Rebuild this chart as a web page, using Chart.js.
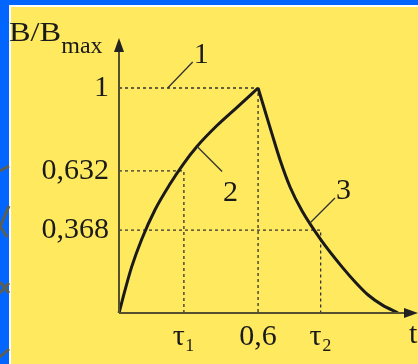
<!DOCTYPE html>
<html>
<head>
<meta charset="utf-8">
<script src="https://cdn.jsdelivr.net/npm/chart.js"></script>
<style>
  html, body { margin: 0; padding: 0; background: #0066ff; }
  canvas { display: block; }
</style>
</head>
<body>
<canvas id="fluxChart" width="418" height="364"></canvas>
<script>
// guide values on the axes
const yTickValues = [0.368, 0.632, 1];
const yTickLabels = ["0,368", "0,632", "1"];
const xTickValues = [0.28, 0.6, 0.87];
const xTickLabels = ["τ₁", "0,6", "τ₂"];

// curve 2 (rise) and curve 3 (decay)
const riseT = [0, 0.026, 0.055, 0.098, 0.155, 0.220, 0.2775, 0.3354, 0.4217, 0.508, 0.6];
const riseB = [0, 0.102, 0.206, 0.328, 0.458, 0.573, 0.662, 0.739, 0.832, 0.913, 1];
const decayT = [0.6, 0.630, 0.660, 0.695, 0.738, 0.790, 0.872, 0.963, 1.019, 1.075, 1.135, 1.204];
const decayB = [1, 0.898, 0.796, 0.680, 0.560, 0.453, 0.324, 0.204, 0.138, 0.080, 0.036, 0];

// numbered callouts: where the leader touches the drawing
const calloutText = ["1", "2", "3"];
const calloutT = [0.21, 0.337, 0.824];
const calloutB = [1, 0.74, 0.40];

const ink = "#1a1a1a";
const axisColor = "#57502f";
const serif = '"Liberation Serif", "DejaVu Serif", serif';

const toPoints = (xs, ys) => xs.map((x, i) => ({ x: x, y: ys[i] }));

// dotted guide: from the y axis to the curve, then down to the t axis
function guide(t, b) {
    return {
        data: [{ x: 0, y: b }, { x: t, y: b }, { x: t, y: 0 }],
        borderColor: "#333",
        borderWidth: 1.3,
        borderDash: [3, 3],
        pointRadius: 0,
        tension: 0,
    };
}

const curveStyle = {
    borderColor: ink,
    borderWidth: 3,
    pointRadius: 0,
    cubicInterpolationMode: "monotone",
    clip: 6,
};

// leader offsets for callouts 1, 2, 3 (pixels)
const calloutDx = [25, 25, 25];
const calloutDy = [-26, 25, -25];

const slideFrame = {
    id: "slideFrame",
    beforeDraw(chart) {
        const { ctx, width, height } = chart;
        ctx.save();
        ctx.fillStyle = "#0066ff";
        ctx.fillRect(0, 0, width, height);
        ctx.fillStyle = "#ffffff";
        ctx.fillRect(9, 5, width, height);
        ctx.fillStyle = "#ffe95f";
        ctx.fillRect(11, 7, width, height);
        // grey strokes of the slide template on the blue strip
        ctx.strokeStyle = "#5b5e52";
        ctx.lineWidth = 3;
        [[0, 171, 9, 166], [9, 206, 0, 227], [0, 226, 7, 237],
         [0, 282, 9, 293], [0, 293, 9, 283], [0, 357, 9, 349]].forEach((s) => {
            ctx.beginPath();
            ctx.moveTo(s[0], s[1]);
            ctx.lineTo(s[2], s[3]);
            ctx.stroke();
        });
        ctx.restore();
    },
    afterDraw(chart) {
        const { ctx, width } = chart;
        const xs = chart.scales.x, ys = chart.scales.y;
        const x0 = xs.getPixelForValue(0), y0 = ys.getPixelForValue(0);
        ctx.save();
        // axes with arrow heads
        ctx.strokeStyle = axisColor;
        ctx.fillStyle = "#222";
        ctx.lineWidth = 2;
        ctx.beginPath();
        ctx.moveTo(x0, y0);
        ctx.lineTo(x0, 48);
        ctx.moveTo(x0, y0);
        ctx.lineTo(width - 8, y0);
        ctx.stroke();
        ctx.beginPath();
        ctx.moveTo(x0, 38);
        ctx.lineTo(x0 + 5, 52);
        ctx.lineTo(x0 - 5, 52);
        ctx.closePath();
        ctx.fill();
        ctx.beginPath();
        ctx.moveTo(width, y0);
        ctx.lineTo(width - 14, y0 - 5);
        ctx.lineTo(width - 14, y0 + 5);
        ctx.closePath();
        ctx.fill();

        // axis titles (the B/B of the slide is set a little wide)
        ctx.fillStyle = ink;
        ctx.textBaseline = "alphabetic";
        ctx.font = "27px " + serif;
        const w = ctx.measureText("B/B").width * 1.2;
        ctx.save();
        ctx.translate(9, 41);
        ctx.scale(1.2, 1);
        ctx.fillText("B/B", 0, 0);
        ctx.restore();
        ctx.font = "24px " + serif;
        ctx.fillText("max", 9 + w, 53);
        ctx.font = "30px " + serif;
        ctx.fillText("t", 409, 343);

        // callouts
        ctx.strokeStyle = "#333";
        ctx.lineWidth = 1.3;
        calloutText.forEach((txt, i) => {
            const px = xs.getPixelForValue(calloutT[i]);
            const py = ys.getPixelForValue(calloutB[i]);
            const ex = px + calloutDx[i], ey = py + calloutDy[i];
            ctx.beginPath();
            ctx.moveTo(px, py);
            ctx.lineTo(ex, ey);
            ctx.stroke();
            const by = calloutDy[i] < 0 ? ey + 1 : ey + 29;
            ctx.fillText(txt, ex + 1, by);
        });
        ctx.restore();
    },
};

const ctx = document.getElementById("fluxChart").getContext("2d");
const fluxChart = new Chart(ctx, {
    type: "line",
    data: {
        datasets: [
            Object.assign({ data: toPoints(riseT, riseB) }, curveStyle),
            Object.assign({ data: toPoints(decayT, decayB) }, curveStyle),
            guide(xTickValues[1], yTickValues[2]),
            guide(xTickValues[0], yTickValues[1]),
            guide(xTickValues[2], yTickValues[0]),
        ],
    },
    options: {
        responsive: false,
        animation: false,
        layout: { padding: { top: 43, right: 0, bottom: 0, left: 0 } },
        plugins: {
            legend: { display: false },
            tooltip: { enabled: false },
        },
        scales: {
            x: {
                type: "linear",
                min: 0,
                max: 1.29,
                grid: { display: false, drawTicks: false },
                border: { display: false },
                afterBuildTicks: (scale) => {
                    scale.ticks = xTickValues.map((v) => ({ value: v }));
                },
                afterFit: (scale) => { scale.height = 51; },
                ticks: {
                    color: ink,
                    padding: 6,
                    maxRotation: 0,
                    autoSkip: false,
                    font: { family: serif, size: 30 },
                    callback: (value) => xTickLabels[xTickValues.indexOf(value)],
                },
            },
            y: {
                type: "linear",
                min: 0,
                max: 1.2,
                grid: { display: false, drawTicks: false },
                border: { display: false },
                afterBuildTicks: (scale) => {
                    scale.ticks = yTickValues.map((v) => ({ value: v }));
                },
                afterFit: (scale) => { scale.width = 119; },
                ticks: {
                    color: ink,
                    padding: 10,
                    autoSkip: false,
                    font: { family: serif, size: 30 },
                    callback: (value) => yTickLabels[yTickValues.indexOf(value)],
                },
            },
        },
    },
    plugins: [slideFrame],
});
</script>
</body>
</html>
